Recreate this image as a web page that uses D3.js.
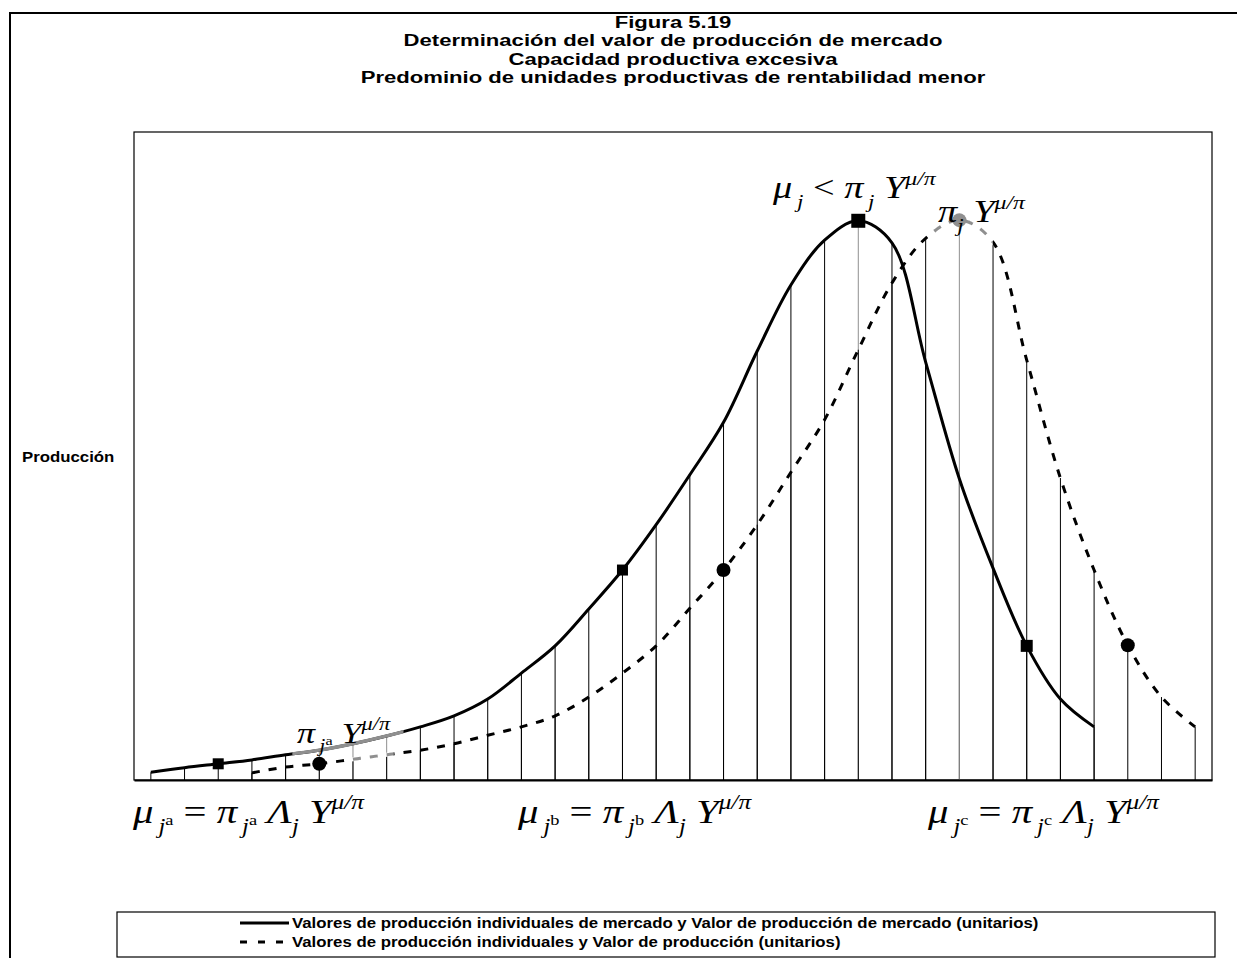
<!DOCTYPE html>
<html>
<head>
<meta charset="utf-8">
<script src="https://cdn.jsdelivr.net/npm/d3@7/dist/d3.min.js"></script>
<style>
  body { margin: 0; background: #fff; }
  text.sans { font-family: "Liberation Sans", Arial, sans-serif; font-weight: bold; }
  text.math { font-family: "Liberation Serif", "Times New Roman", serif; }
</style>
</head>
<body>
<div id="chart"></div>
<script>
// production units along the horizontal axis
var units = [1, 2, 3, 4, 5, 6, 7, 8, 9, 10, 11, 12, 13, 14, 15, 16,
             17, 18, 19, 20, 21, 22, 23, 24, 25, 26, 27, 28, 29, 30, 31, 32];

// market production values (solid line), units 1..29
var mercado = [1.2, 1.9, 2.5, 3.1, 3.9, 4.6, 5.6, 6.8, 8.2, 9.9, 12.5, 16.5, 20.7, 26.4, 32.4,
               39.4, 47.1, 55.2, 66.2, 76.4, 83.3, 86.3, 82.9, 64.5, 46.5, 32.7, 20.7, 12.5, 8.2];

// individual production values (dashed line), units 4..32
var individual = [null, null, null,
                  1.1, 2.0, 2.5, 3.2, 3.9, 4.6, 5.6, 6.9, 8.2, 9.9, 12.8, 16.5, 20.7, 26.5,
                  32.4, 39.4, 47.5, 55.6, 66.4, 76.7, 83.6, 86.4, 83.0, 64.8, 46.6, 32.4,
                  20.8, 12.8, 8.2];

// highlighted points (index into units)
var mercadoMarks = [2, 14, 21, 26];
var individualMarks = [5, 17, 24, 29];
var greyMarks = [24];

var legendLabels = [
  "Valores de producción  individuales de mercado y Valor de producción de mercado (unitarios)",
  "Valores de producción  individuales y Valor de producción (unitarios)"
];
var titleLines = [
  "Figura 5.19",
  "Determinación del valor de producción de mercado",
  "Capacidad productiva excesiva",
  "Predominio de unidades productivas de rentabilidad menor"
];

var W = 1237, H = 958;
var plot = {left: 134, top: 132, right: 1212, bottom: 780};
var grey = "#8f8f8f";
var stretch = 1.3;   // the original figure is stretched sideways

var svg = d3.select("#chart").append("svg")
    .attr("width", W)
    .attr("height", H);

// outer frame
svg.append("rect")
    .attr("x", 10).attr("y", 13)
    .attr("width", W + 20).attr("height", H + 20)
    .attr("fill", "none").attr("stroke", "#000").attr("stroke-width", 2);

// title
svg.selectAll(".title").data(titleLines).enter().append("text")
    .attr("class", "sans title")
    .attr("transform", (d, i) => "translate(" + (plot.left + plot.right) / 2 + "," + (28 + i * 18.3) + ") scale(" + stretch + ",1)")
    .attr("text-anchor", "middle")
    .style("font-size", "17px")
    .text(d => d);

var x = d3.scaleBand()
    .domain(units)
    .range([plot.left, plot.right])
    .padding(0);
var xc = d => x(d) + x.bandwidth() / 2;

var y = d3.scaleLinear()
    .domain([0, 100])
    .range([plot.bottom, plot.top]);

// plot area
svg.append("rect")
    .attr("x", plot.left).attr("y", plot.top)
    .attr("width", plot.right - plot.left).attr("height", plot.bottom - plot.top)
    .attr("fill", "#fff").attr("stroke", "#000").attr("stroke-width", 1.2);

var mData = mercado.map((v, i) => ({u: units[i], v: v, i: i}));
var iData = individual.map((v, i) => ({u: units[i], v: v, i: i})).filter(d => d.v != null);

// drop lines to the axis
function dropLines(data, greyIdx) {
  svg.append("g").selectAll("line").data(data).enter().append("line")
      .attr("x1", d => xc(d.u)).attr("x2", d => xc(d.u))
      .attr("y1", d => y(d.v)).attr("y2", y(0))
      .attr("stroke", d => greyIdx.indexOf(d.i) >= 0 ? grey : "#000")
      .attr("stroke-width", 1);
}
dropLines(mData, [5, 6, 7, 21]);
dropLines(iData, [24]);

// x axis line
svg.append("g")
    .attr("transform", "translate(0," + plot.bottom + ")")
    .call(d3.axisBottom(x).tickSize(0).tickFormat(""))
    .call(g => g.select(".domain").attr("stroke-width", 2.2));

var line = d3.line()
    .x(d => xc(d.u))
    .y(d => y(d.v))
    .curve(d3.curveCatmullRom.alpha(0.5));

// clip helper, ranges given in category positions
var step = x.step();
function clipRange(id, ranges) {
  var cp = svg.append("clipPath").attr("id", id);
  ranges.forEach(r => {
    cp.append("rect")
      .attr("x", xc(units[0]) + r[0] * step)
      .attr("width", (r[1] - r[0]) * step)
      .attr("y", 0).attr("height", H);
  });
}
clipRange("clipM", [[4.2, 7.5]]);
clipRange("clipI", [[5.9, 7.2], [23.2, 25.0]]);

// market values: solid
svg.append("path").datum(mData)
    .attr("d", line).attr("fill", "none")
    .attr("stroke", "#000").attr("stroke-width", 3);
svg.append("path").datum(mData)
    .attr("d", line).attr("fill", "none")
    .attr("clip-path", "url(#clipM)")
    .attr("stroke", grey).attr("stroke-width", 3.4);

// individual values: dashed, grey where it passes under the labels
svg.append("path").datum(iData)
    .attr("d", line).attr("fill", "none")
    .attr("stroke", "#000").attr("stroke-width", 3)
    .attr("stroke-dasharray", "8,9");
var greyPart = svg.append("g").attr("clip-path", "url(#clipI)");
greyPart.append("path").datum(iData)
    .attr("d", line).attr("fill", "none")
    .attr("stroke", "#fff").attr("stroke-width", 4);
greyPart.append("path").datum(iData)
    .attr("d", line).attr("fill", "none")
    .attr("stroke", grey).attr("stroke-width", 3)
    .attr("stroke-dasharray", "8,9");

// markers
var sqSize = [11, 11, 14, 12];
svg.append("g").selectAll("rect").data(mercadoMarks).enter().append("rect")
    .attr("x", (d, k) => xc(units[d]) - sqSize[k] / 2)
    .attr("y", (d, k) => y(mercado[d]) - sqSize[k] / 2)
    .attr("width", (d, k) => sqSize[k])
    .attr("height", (d, k) => sqSize[k])
    .attr("fill", "#000");

svg.append("g").selectAll("circle").data(individualMarks).enter().append("circle")
    .attr("cx", d => xc(units[d]))
    .attr("cy", d => y(individual[d]))
    .attr("r", 7)
    .attr("fill", d => greyMarks.indexOf(d) >= 0 ? grey : "#000");

// math labels: parts are [text, relative size, shift up (em), italic]
function mathLabel(px, py, size, parts) {
  var t = svg.append("text").attr("class", "math")
      .attr("transform", "translate(" + px + "," + py + ") scale(1.2,1)")
      .style("font-size", size + "px");
  var prev = 0;
  parts.forEach(p => {
    t.append("tspan")
      .attr("dy", (-(p[2] - prev) * size).toFixed(2))
      .style("font-size", (p[1] * size).toFixed(1) + "px")
      .style("font-style", p[3] ? "italic" : "normal")
      .text(p[0]);
    prev = p[2];
  });
}
var sub = function (s) { return [s, 0.6, -0.3, true]; };
var sup = function (s) { return [s, 0.45, -0.05, false]; };
var pow = ["\u03bc/\u03c0", 0.62, 0.42, true];

function bottomLabel(px, letter) {
  mathLabel(px, 823, 34, [
    ["\u03bc", 1, 0, true], ["\u2009", 0.6, 0, false], sub("j"), sup(letter),
    [" = ", 1, 0, false],
    ["\u03c0", 1, 0, true], ["\u2009", 0.6, 0, false], sub("j"), sup(letter),
    [" \u039b", 1, 0, true], sub("j"),
    [" Y", 1, 0, true], pow
  ]);
}
bottomLabel(133, "a");
bottomLabel(518, "b");
bottomLabel(928, "c");

mathLabel(773, 198, 32, [
  ["\u03bc", 1, 0, true], ["\u2009", 0.6, 0, false], sub("j"),
  [" < ", 1, 0, false],
  ["\u03c0", 1, 0, true], ["\u2009", 0.6, 0, false], sub("j"),
  [" Y", 1, 0, true], pow
]);
mathLabel(938, 222, 32, [
  ["\u03c0", 1, 0, true], sub("j"),
  [" Y", 1, 0, true], pow
]);
mathLabel(297, 743, 30, [
  ["\u03c0", 1, 0, true], ["\u2009", 0.6, 0, false], sub("j"), sup("a"),
  [" Y", 1, 0, true], pow
]);

// y axis title
svg.append("text").attr("class", "sans")
    .attr("transform", "translate(22,462) scale(1.2,1)")
    .style("font-size", "14px")
    .text("Producción");

// legend
var lg = {left: 117, top: 912, right: 1215, bottom: 957};
svg.append("rect")
    .attr("x", lg.left).attr("y", lg.top)
    .attr("width", lg.right - lg.left).attr("height", lg.bottom - lg.top)
    .attr("fill", "#fff").attr("stroke", "#000").attr("stroke-width", 1.2);

var rows = svg.append("g").selectAll("g").data(legendLabels).enter().append("g")
    .attr("transform", (d, i) => "translate(0," + (923 + i * 19) + ")");
rows.append("line")
    .attr("x1", 240).attr("x2", (d, i) => i ? 286 : 289)
    .attr("stroke", "#000").attr("stroke-width", 3)
    .attr("stroke-dasharray", (d, i) => i ? "7,11" : null);
rows.append("text").attr("class", "sans")
    .attr("transform", "translate(292,5) scale(1.2,1)")
    .style("font-size", "14px")
    .text(d => d);
</script>
</body>
</html>
